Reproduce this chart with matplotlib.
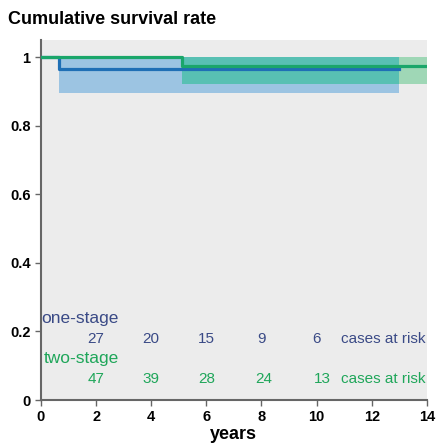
import numpy as np
import matplotlib.pyplot as plt

plt.rcParams['font.family'] = ['Liberation Sans', 'DejaVu Sans']

# Kaplan-Meier steps (years, survival)
one_t = [0, 0.65, 13.0]
one_s = [1.0, 0.965, 0.965]
one_ci_t = [0.65, 13.0]
one_ci_lo = 0.895
one_ci_hi = 1.0

two_t = [0, 5.1, 14.0]
two_s = [1.0, 0.975, 0.975]
two_ci_t = [5.1, 13.0]
two_ci_t2 = [13.0, 14.0]
two_ci_lo = 0.921
two_ci_hi = 1.0

risk_years = [2, 4, 6, 8, 10]
one_risk = [27, 20, 15, 9, 6]
two_risk = [47, 39, 28, 24, 13]

blue = '#1f6fb5'
green = '#1aa66a'
one_txt = '#3a4a86'
two_txt = '#1fa65a'

fig = plt.figure(figsize=(4.36, 4.44), dpi=100)
ax = fig.add_axes([0.094, 0.099, 0.885, 0.811])
ax.set_facecolor('#ececec')

# confidence bands
ax.fill_between(one_ci_t, one_ci_lo, one_ci_hi, color='#9cc4e2', lw=0)
ax.fill_between(two_ci_t, two_ci_lo, two_ci_hi, color='#3cbfa0', alpha=0.7, lw=0)
ax.fill_between(two_ci_t2, two_ci_lo, two_ci_hi, color='#7fcfa0', alpha=0.7, lw=0)

ax.step(one_t, one_s, where='post', color=blue, lw=2.3, zorder=3)
ax.step(two_t, two_s, where='post', color=green, lw=2.3, zorder=4)

# numbers at risk
ax.text(0.0, 0.239, 'one-stage', color=one_txt, fontsize=12.5, va='center')
for x, n in zip(risk_years, one_risk):
    ax.text(x, 0.178, str(n), color=one_txt, fontsize=11, ha='center', va='center')
ax.text(13.95, 0.178, 'cases at risk', color=one_txt, fontsize=11, ha='right', va='center')

ax.text(0.1, 0.12, 'two-stage', color=two_txt, fontsize=12.5, va='center')
for x, n in zip(risk_years, two_risk):
    ax.text(x + 0.1 * (x >= 8) + 0.1 * (x >= 10), 0.061, str(n), color=two_txt, fontsize=11,
            ha='center', va='center')
ax.text(13.95, 0.061, 'cases at risk', color=two_txt, fontsize=11, ha='right', va='center')

ax.set_xlim(0, 14)
ax.set_ylim(0, 1.05)
ax.set_xticks(range(0, 15, 2))
ax.set_yticks([0, 0.2, 0.4, 0.6, 0.8, 1])
ax.set_yticklabels(['0', '0.2', '0.4', '0.6', '0.8', '1'])
for lab in ax.get_xticklabels() + ax.get_yticklabels():
    lab.set_fontweight('bold')
    lab.set_fontsize(10.5)
ax.tick_params(length=4, color='#666666', width=1)

for s in ['top', 'right']:
    ax.spines[s].set_visible(False)
for s in ['left', 'bottom']:
    ax.spines[s].set_color('#666666')
    ax.spines[s].set_linewidth(1.5)

ax.set_xlabel('years', fontsize=13, fontweight='bold', labelpad=1)
fig.text(0.018, 0.955, 'Cumulative survival rate', fontsize=13, fontweight='bold', va='center')

fig.savefig('out.png', dpi=100)
